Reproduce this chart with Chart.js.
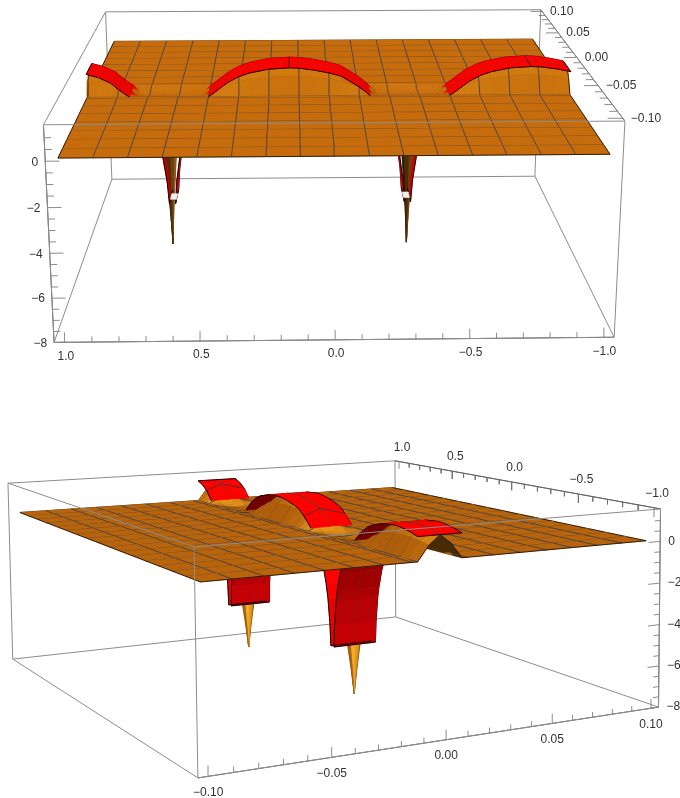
<!DOCTYPE html>
<html lang="en">
<head>
<meta charset="UTF-8">
<title>Surface plots</title>
<script src="https://cdn.jsdelivr.net/npm/chart.js"></script>
<style>
    body { margin: 0; background: #fff; }
    #chart { display: block; }
</style>
</head>
<body>
<canvas id="chart" width="680" height="798"></canvas>
<script>
// values
var meshU = [1, 0.875, 0.75, 0.625, 0.5, 0.375, 0.25, 0.125, 0, -0.125, -0.25, -0.375, -0.5, -0.625, -0.75, -0.875, -1];
var meshV = [-0.1, -0.0875, -0.075, -0.0625, -0.05, -0.0375, -0.025, -0.0125, 0, 0.0125, 0.025, 0.0375, 0.05, 0.0625, 0.075, 0.0875, 0.1];
var sheetV = [-0.1, -0.0875, -0.075, -0.0625, -0.05, -0.0375, -0.025, -0.0125, -0.01, 0.01, 0.0125, 0.025, 0.0375, 0.05, 0.0625, 0.075, 0.0875, 0.1];
var ribbonU = [1, 0.95, 0.9, 0.875, 0.85, 0.825, 0.8, 0.77, 0.75, 0.71, 0.695, 0.68, 0.673, 0.647, 0.64, 0.625, 0.61, 0.58, 0.55, 0.525, 0.5, 0.475, 0.45, 0.42, 0.375, 0.33, 0.25, 0.165, 0.125, 0.06, 0, -0.05, -0.09, -0.125, -0.15, -0.17, -0.2, -0.23, -0.25, -0.28, -0.295, -0.31, -0.317, -0.343, -0.35, -0.365, -0.375, -0.4, -0.43, -0.46, -0.5, -0.525, -0.55, -0.58, -0.625, -0.67, -0.75, -0.835, -0.875, -0.94, -1];
var ribbonZ = [1.12, 0.96, 0.68, 0.42, 0.2, 0, -0.3, -0.75, -1.2, -2.4, -3, -4.2, -5.3, -5.3, -4.2, -3, -2.4, -1.4, -0.75, -0.3, 0, 0.2, 0.42, 0.68, 0.96, 1.14, 1.32, 1.38, 1.36, 1.26, 1.12, 0.96, 0.68, 0.42, 0.2, 0, -0.35, -0.8, -1.3, -2.3, -3, -4.2, -5.3, -5.3, -4.2, -3, -2.5, -1.6, -0.9, -0.5, 0, 0.2, 0.42, 0.68, 0.96, 1.14, 1.32, 1.38, 1.36, 1.26, 1.12];
var ribbonFloor = -5.3;
var ridgeV = [-0.01, -0.005, 0, 0.005, 0.01];
var ridgeShape = [0, 0.62, 1, 0.62, 0];
var ribbonMarksFront = [0.165, -0.835];
var ribbonMarksSide = [0.9, -0.09, -0.75];
var spikeU = [0.67, -0.335];
var spikeZ = [-1, -3, -5.3, -6.5, -7.75];
var spikeRadiusU = [0.05, 0.025, 0.011, 0.005, 0];
var spikeRadiusV = [0.007, 0.005, 0.003, 0.0014, 0];
var spikeAngleU = [1, 0.7, 0, -0.7, -1, -0.7, 0, 0.7];
var spikeAngleV = [0, 0.7, 1, 0.7, 0, -0.7, -1, -0.7];

var uTicks = [1, 0.5, 0, -0.5, -1];
var uTickLabels = ['1.0', '0.5', '0.0', '\u22120.5', '\u22121.0'];
var vTicks = [0.1, 0.05, 0, -0.05, -0.1];
var vTickLabels = ['0.10', '0.05', '0.00', '\u22120.05', '\u22120.10'];
var zTicks = [0, -2, -4, -6, -8];
var zTickLabels = ['0', '\u22122', '\u22124', '\u22126', '\u22128'];
var uMinor = [0.9, 0.8, 0.7, 0.6, 0.4, 0.3, 0.2, 0.1, -0.1, -0.2, -0.3, -0.4, -0.6, -0.7, -0.8, -0.9];
var vMinor = [0.09, 0.08, 0.07, 0.06, 0.04, 0.03, 0.02, 0.01, -0.01, -0.02, -0.03, -0.04, -0.06, -0.07, -0.08, -0.09];
var zMinor = [1, 0.5, -0.5, -1, -1.5, -2.5, -3, -3.5, -4.5, -5, -5.5, -6.5, -7, -7.5];

// box range, slightly larger than the surface
var U = 1.04, V = 0.104, Zmin = -8, Zmax = 1.55;

// the two camera views: box corners on screen, keyed by sign of u, v and top/bottom
var views = [
    {
        corners: [
            [1, -1, 1, 43.3, 125], [-1, -1, 1, 625, 120.7], [1, 1, 1, 105.7, 11.7], [-1, 1, 1, 540.7, 10],
            [1, -1, -1, 54.3, 342.3], [-1, -1, -1, 614, 337.5], [1, 1, -1, 111.7, 179.3], [-1, 1, -1, 535, 176]
        ],
        light: [0.1, -0.5, 0.86], gain: 1.0, flat: [198, 108, 12], cut: 0, cap: true, spikeTop: -1,
        marks: ribbonMarksFront, markApex: false,
        spikeShades: [[40, 22, 2], [40, 22, 2], [40, 22, 2], [40, 22, 2], [150, 95, 25], [110, 65, 15], [75, 45, 8], [45, 25, 3]],
        uAxis: { v: -V, z: Zmin, dx: 1, dy: 14, tick: [0, 0, 1], major: 0.45, minor: 0.25, align: 'center' },
        vAxis: { u: -U, z: Zmax, dx: 8, dy: 0, tick: [1, 0, 0], major: 0.055, minor: 0.03, align: 'left' },
        zAxis: { u: U, v: -V, dx: -7, dy: 1, tick: [-1, 0, 0], major: 0.05, minor: 0.025, align: 'right' }
    },
    {
        corners: [
            [1, -1, 1, 7.7, 483.3], [-1, -1, 1, 194, 546.7], [1, 1, 1, 395.7, 460.7], [-1, 1, 1, 660, 509],
            [1, -1, -1, 13, 659], [-1, -1, -1, 198, 778], [1, 1, -1, 395, 617], [-1, 1, -1, 659, 707]
        ],
        light: [-0.55, -0.35, 0.76], gain: 2.0, flat: [184, 100, 12], cut: 0.2, cap: false, spikeTop: -5.3,
        marks: ribbonMarksSide, markApex: true,
        spikeShades: [[90, 52, 6], [90, 52, 6], [140, 85, 10], [225, 150, 30], [245, 170, 40], [165, 100, 15], [90, 52, 6], [90, 52, 6]],
        uAxis: { v: V, z: Zmax, dx: 3, dy: -14, tick: [0, 0, -1], major: 0.45, minor: 0.25, align: 'center' },
        vAxis: { u: -U, z: Zmin, dx: 0, dy: 16, tick: [0, 0, 1], major: 0.45, minor: 0.25, align: 'center' },
        zAxis: { u: -U, v: V, dx: 8, dy: 0, tick: [0, -1, 0], major: 0.006, minor: 0.003, align: 'left' }
    }
];

function solve(A, b) {
    var n = b.length;
    for (var i = 0; i < n; i++) {
        var p = i;
        for (var r = i + 1; r < n; r++) if (Math.abs(A[r][i]) > Math.abs(A[p][i])) p = r;
        var t = A[i]; A[i] = A[p]; A[p] = t;
        t = b[i]; b[i] = b[p]; b[p] = t;
        for (r = i + 1; r < n; r++) {
            var f = A[r][i] / A[i][i];
            for (var c = i; c < n; c++) A[r][c] -= f * A[i][c];
            b[r] -= f * b[i];
        }
    }
    var x = [];
    for (i = n - 1; i >= 0; i--) {
        var s = b[i];
        for (c = i + 1; c < n; c++) s -= A[i][c] * x[c];
        x[i] = s / A[i][i];
    }
    return x;
}

// least squares camera matrix from the eight box corners
function fitCamera(view) {
    var rows = [], rhs = [];
    view.corners.forEach(function (k) {
        rows.push([k[0], k[1], k[2], 1, 0, 0, 0, 0, -k[3] * k[0], -k[3] * k[1], -k[3] * k[2]]); rhs.push(k[3]);
        rows.push([0, 0, 0, 0, k[0], k[1], k[2], 1, -k[4] * k[0], -k[4] * k[1], -k[4] * k[2]]); rhs.push(k[4]);
    });
    var N = [], b = [];
    for (var i = 0; i < 11; i++) {
        N[i] = []; b[i] = 0;
        for (var j = 0; j < 11; j++) {
            N[i][j] = 0;
            rows.forEach(function (r) { N[i][j] += r[i] * r[j]; });
        }
        rows.forEach(function (r, q) { b[i] += r[i] * rhs[q]; });
    }
    view.P = solve(N, b);
}

function project(view, u, v, z) {
    var a = u / U, b = v / V, c = (z - (Zmax + Zmin) / 2) / ((Zmax - Zmin) / 2), P = view.P;
    var w = P[8] * a + P[9] * b + P[10] * c + 1;
    return { x: (P[0] * a + P[1] * b + P[2] * c + P[3]) / w, y: (P[4] * a + P[5] * b + P[6] * c + P[7]) / w, w: w };
}

function mix(a, b, t) {
    t = Math.max(0, Math.min(1, t));
    return [a[0] + (b[0] - a[0]) * t, a[1] + (b[1] - a[1]) * t, a[2] + (b[2] - a[2]) * t];
}
function rgb(c) { return 'rgb(' + Math.round(c[0]) + ',' + Math.round(c[1]) + ',' + Math.round(c[2]) + ')'; }

function area(pts) {
    var s = 0;
    for (var i = 0; i < pts.length; i++) {
        var a = pts[i], b = pts[(i + 1) % pts.length];
        s += a.x * b.y - b.x * a.y;
    }
    return s;
}

// t around 0 means lit like the flat sheet
function lit(view, q) {
    var d1 = [(q[2][0] - q[0][0]) / 2, (q[2][1] - q[0][1]) / 0.2, (q[2][2] - q[0][2]) / 24];
    var d2 = [(q[3][0] - q[1][0]) / 2, (q[3][1] - q[1][1]) / 0.2, (q[3][2] - q[1][2]) / 24];
    var n = [d1[1] * d2[2] - d1[2] * d2[1], d1[2] * d2[0] - d1[0] * d2[2], d1[0] * d2[1] - d1[1] * d2[0]];
    var len = Math.sqrt(n[0] * n[0] + n[1] * n[1] + n[2] * n[2]) || 1;
    if (n[2] < 0) len = -len;
    var L = view.light;
    return view.gain * ((n[0] * L[0] + n[1] * L[1] + n[2] * L[2]) / len - L[2]);
}

function buildView(view, items) {
    fitCamera(view);
    var refA = area([project(view, 1, -0.1, 0), project(view, -1, -0.1, 0), project(view, -1, 0.1, 0), project(view, 1, 0.1, 0)]);
    var up = refA > 0;

    function addQuad(q, kind, bias, fixed) {
        var pts = q.map(function (p) { return project(view, p[0], p[1], p[2]); });
        var w = (pts[0].w + pts[1].w + pts[2].w + pts[3].w) / 4;
        var faceUp = (area(pts) > 0) === up;
        var t = lit(view, q), col;
        if (fixed) {
            col = fixed;
        } else if (kind === 'orange') {
            col = !faceUp ? [72, 42, 2] : t < 0 ? mix(view.flat, [95, 52, 4], -t * 1.6) : mix(view.flat, [255, 188, 36], t * 1.5);
        } else {
            var z = (q[0][2] + q[1][2] + q[2][2] + q[3][2]) / 4;
            if (faceUp) col = mix([255, 0, 0], [190, 0, 0], -t * 1.2);
            else col = z > 0 ? [112, 0, 0] : mix([128, 0, 0], [196, 2, 6], -z / 4.5);
        }
        items.push({ w: w - (bias || 0), pts: pts, color: rgb(col), fill: true, width: 0.6 });
    }
    function addLine(a, b, color, width, bias) {
        var p = project(view, a[0], a[1], a[2]), r = project(view, b[0], b[1], b[2]);
        items.push({ w: Math.min(p.w, r.w) - (bias || 0.0005), pts: [p, r], color: color, fill: false, width: width });
    }
    var meshCol = 'rgb(62,62,66)', edgeCol = 'rgb(30,18,6)', redEdge = 'rgb(25,0,0)', i, j;

    function isMesh(list, val) {
        return list.some(function (m) { return Math.abs(m - val) < 1e-6; });
    }
    // flat part of the sheet
    for (i = 0; i < meshU.length - 1; i++) {
        for (j = 0; j < sheetV.length - 1; j++) {
            if (sheetV[j] === ridgeV[0]) continue;
            var u1 = meshU[i], u2 = meshU[i + 1], v1 = sheetV[j], v2 = sheetV[j + 1];
            addQuad([[u1, v1, 0], [u2, v1, 0], [u2, v2, 0], [u1, v2, 0]], 'orange');
            if (isMesh(meshV, v1)) addLine([u1, v1, 0], [u2, v1, 0], v1 === -0.1 ? edgeCol : meshCol, 0.9);
            if (v2 === 0.1) addLine([u1, v2, 0], [u2, v2, 0], edgeCol, 0.9);
            addLine([u1, v1, 0], [u1, v2, 0], i === 0 ? edgeCol : meshCol, 0.9);
            if (i === meshU.length - 2) addLine([u2, v1, 0], [u2, v2, 0], edgeCol, 0.9);
        }
    }
    // orange ridge under the ribbon
    function ridgeZ(n, row) { return ridgeShape[row] * Math.max(ribbonZ[n], -0.15); }
    for (i = 0; i < ribbonU.length - 1; i++) {
        for (j = 0; j < ridgeV.length - 1; j++) {
            var a = [ribbonU[i], ridgeV[j], ridgeZ(i, j)], b = [ribbonU[i + 1], ridgeV[j], ridgeZ(i + 1, j)];
            var c = [ribbonU[i + 1], ridgeV[j + 1], ridgeZ(i + 1, j + 1)], d = [ribbonU[i], ridgeV[j + 1], ridgeZ(i, j + 1)];
            addQuad([a, b, c, d], 'orange');
            if (isMesh(meshU, ribbonU[i])) addLine(a, d, i === 0 ? edgeCol : meshCol, 0.9);
            if (i === ribbonU.length - 2) addLine(b, c, edgeCol, 0.9);
            if (j === 0) addLine(a, b, meshCol, 0.8);
        }
    }
    // red ribbon
    var vA = ridgeV[0], vB = ridgeV[4], vC = ridgeV[2];
    for (i = 0; i < ribbonU.length - 1; i++) {
        var z1 = ribbonZ[i], z2 = ribbonZ[i + 1];
        if (z1 <= ribbonFloor && z2 <= ribbonFloor) {
            if (view.cap) {
                addQuad([[ribbonU[i], -0.004, ribbonFloor], [ribbonU[i + 1], -0.004, ribbonFloor], [ribbonU[i + 1], 0.004, ribbonFloor], [ribbonU[i], 0.004, ribbonFloor]], 'cap', 0.02, [240, 240, 240]);
            }
            continue;
        }
        if ((z1 >= 0 || z2 >= 0) && Math.min(z1, z2) < view.cut && view.cut > 0) continue;
        var bias = Math.max(z1, z2) > 0 ? 0.004 : 0;
        var ua = ribbonU[i], ub = ribbonU[i + 1];
        addQuad([[ua, vA, z1], [ub, vA, z2], [ub, vC, z2], [ua, vC, z1]], 'red', bias);
        addQuad([[ua, vC, z1], [ub, vC, z2], [ub, vB, z2], [ua, vB, z1]], 'red', bias);
        addLine([ua, vC, z1], [ub, vC, z2], 'rgb(70,60,60)', 0.9, bias + 0.001);
        addLine([ua, vA, z1], [ub, vA, z2], redEdge, 1, bias + 0.001);
        addLine([ua, vB, z1], [ub, vB, z2], redEdge, 1, bias + 0.001);
        if (i === 0) addLine([ua, vA, z1], [ua, vB, z1], redEdge, 1, bias + 0.001);
        if (i === ribbonU.length - 2) addLine([ub, vA, z2], [ub, vB, z2], redEdge, 1, bias + 0.001);
        if (z2 <= ribbonFloor) addLine([ub, vA, z2], [ub, vB, z2], redEdge, 1, bias + 0.001);
        if (z1 <= ribbonFloor) addLine([ua, vA, z1], [ua, vB, z1], redEdge, 1, bias + 0.001);
        if (isMesh(view.marks, ua)) {
            if (view.markApex && i > 0) {
                var top = [ribbonU[i - 1], vC, ribbonZ[i - 1]];
                addLine([ua, vA, z1], top, 'rgb(70,50,50)', 0.9, bias + 0.001);
                addLine(top, [ua, vB, z1], 'rgb(70,50,50)', 0.9, bias + 0.001);
            } else {
                addLine([ua, vA, z1], [ua, vB, z1], 'rgb(60,20,20)', 0.9, bias + 0.001);
            }
        }
    }
    // spikes under the sheet
    spikeU.forEach(function (su) {
        for (var r = 0; r < spikeZ.length - 1; r++) {
            if (spikeZ[r] > view.spikeTop) continue;
            for (var k = 0; k < spikeAngleU.length; k++) {
                var m = (k + 1) % spikeAngleU.length;
                addQuad([
                    [su + spikeAngleU[k] * spikeRadiusU[r], vC + spikeAngleV[k] * spikeRadiusV[r], spikeZ[r]],
                    [su + spikeAngleU[m] * spikeRadiusU[r], vC + spikeAngleV[m] * spikeRadiusV[r], spikeZ[r]],
                    [su + spikeAngleU[m] * spikeRadiusU[r + 1], vC + spikeAngleV[m] * spikeRadiusV[r + 1], spikeZ[r + 1]],
                    [su + spikeAngleU[k] * spikeRadiusU[r + 1], vC + spikeAngleV[k] * spikeRadiusV[r + 1], spikeZ[r + 1]]
                ], 'spike', 0, view.spikeShades[k]);
            }
        }
    });
}

// box edges and ticks: far edges go under the surface, near ones over it
function buildBox(view, under, over, texts) {
    var c = project(view, 0, 0, (Zmax + Zmin) / 2).w;
    var signs = [[1, -1, 1], [-1, -1, 1], [-1, 1, 1], [1, 1, 1], [1, -1, -1], [-1, -1, -1], [-1, 1, -1], [1, 1, -1]];
    var edges = [[0, 1], [1, 2], [2, 3], [3, 0], [4, 5], [5, 6], [6, 7], [7, 4], [0, 4], [1, 5], [2, 6], [3, 7]];
    var box = function (s) { return project(view, s[0] * U, s[1] * V, s[2] > 0 ? Zmax : Zmin); };
    edges.forEach(function (e) {
        var a = box(signs[e[0]]), b = box(signs[e[1]]);
        ((a.w + b.w) / 2 > c ? under : over).push({ pts: [a, b], color: 'rgb(140,140,140)', fill: false, width: 1 });
    });
    function axisLine(a, b) { under.push({ pts: [a, b], color: 'rgb(95,95,95)', fill: false, width: 1 }); }
    function tick(ax, pos, len) {
        var p = project(view, pos[0], pos[1], pos[2]);
        var q = project(view, pos[0] + ax.tick[0] * len, pos[1] + ax.tick[1] * len, pos[2] + ax.tick[2] * len);
        under.push({ pts: [p, q], color: 'rgb(110,110,110)', fill: false, width: 0.8 });
        return p;
    }
    var A = view.uAxis, B = view.vAxis, C = view.zAxis;
    axisLine(project(view, U, A.v, A.z), project(view, -U, A.v, A.z));
    axisLine(project(view, B.u, V, B.z), project(view, B.u, -V, B.z));
    axisLine(project(view, C.u, C.v, Zmax), project(view, C.u, C.v, Zmin));
    uTicks.forEach(function (u, i) {
        var p = tick(A, [u, A.v, A.z], A.major);
        texts.push({ t: uTickLabels[i], x: p.x + A.dx, y: p.y + A.dy, align: A.align });
    });
    uMinor.forEach(function (u) { tick(A, [u, A.v, A.z], A.minor); });
    vTicks.forEach(function (v, i) {
        var p = tick(B, [B.u, v, B.z], B.major);
        texts.push({ t: vTickLabels[i], x: p.x + B.dx, y: p.y + B.dy, align: B.align });
    });
    vMinor.forEach(function (v) { tick(B, [B.u, v, B.z], B.minor); });
    zTicks.forEach(function (z, i) {
        var p = tick(C, [C.u, C.v, z], C.major);
        texts.push({ t: zTickLabels[i], x: p.x + C.dx, y: p.y + C.dy, align: C.align });
    });
    zMinor.forEach(function (z) { tick(C, [C.u, C.v, z], C.minor); });
}

var drawList = [], labels = [];
views.forEach(function (view) {
    var items = [], under = [], over = [];
    buildView(view, items);
    buildBox(view, under, over, labels);
    items.sort(function (a, b) { return b.w - a.w; });
    drawList = drawList.concat(under, items, over);
});

// chart.js paints the first dataset last, so the painter's order is flipped here
var datasets = drawList.map(function (it) {
    var pts = it.pts.map(function (p) { return { x: p.x, y: p.y }; });
    if (it.fill) pts.push({ x: it.pts[0].x, y: it.pts[0].y });
    return {
        data: pts,
        showLine: true,
        fill: it.fill ? 'shape' : false,
        backgroundColor: it.color,
        borderColor: it.color,
        borderWidth: it.width,
        pointRadius: 0,
        tension: 0
    };
}).reverse();

var tickText = {
    id: 'tickText',
    afterDraw: function (chart) {
        var ctx = chart.ctx;
        ctx.save();
        ctx.font = "12px 'Liberation Sans'";
        ctx.fillStyle = '#333';
        ctx.textBaseline = 'middle';
        labels.forEach(function (l) {
            ctx.textAlign = l.align;
            ctx.fillText(l.t, l.x, l.y);
        });
        ctx.restore();
    }
};

new Chart(document.getElementById('chart').getContext('2d'), {
    type: 'scatter',
    data: { datasets: datasets },
    options: {
        responsive: false,
        animation: false,
        events: [],
        layout: { padding: 0 },
        scales: {
            x: { type: 'linear', display: false, min: 0, max: 680 },
            y: { type: 'linear', display: false, min: 0, max: 798, reverse: true }
        },
        plugins: { legend: { display: false }, tooltip: { enabled: false } }
    },
    plugins: [tickText]
});
</script>
</body>
</html>
